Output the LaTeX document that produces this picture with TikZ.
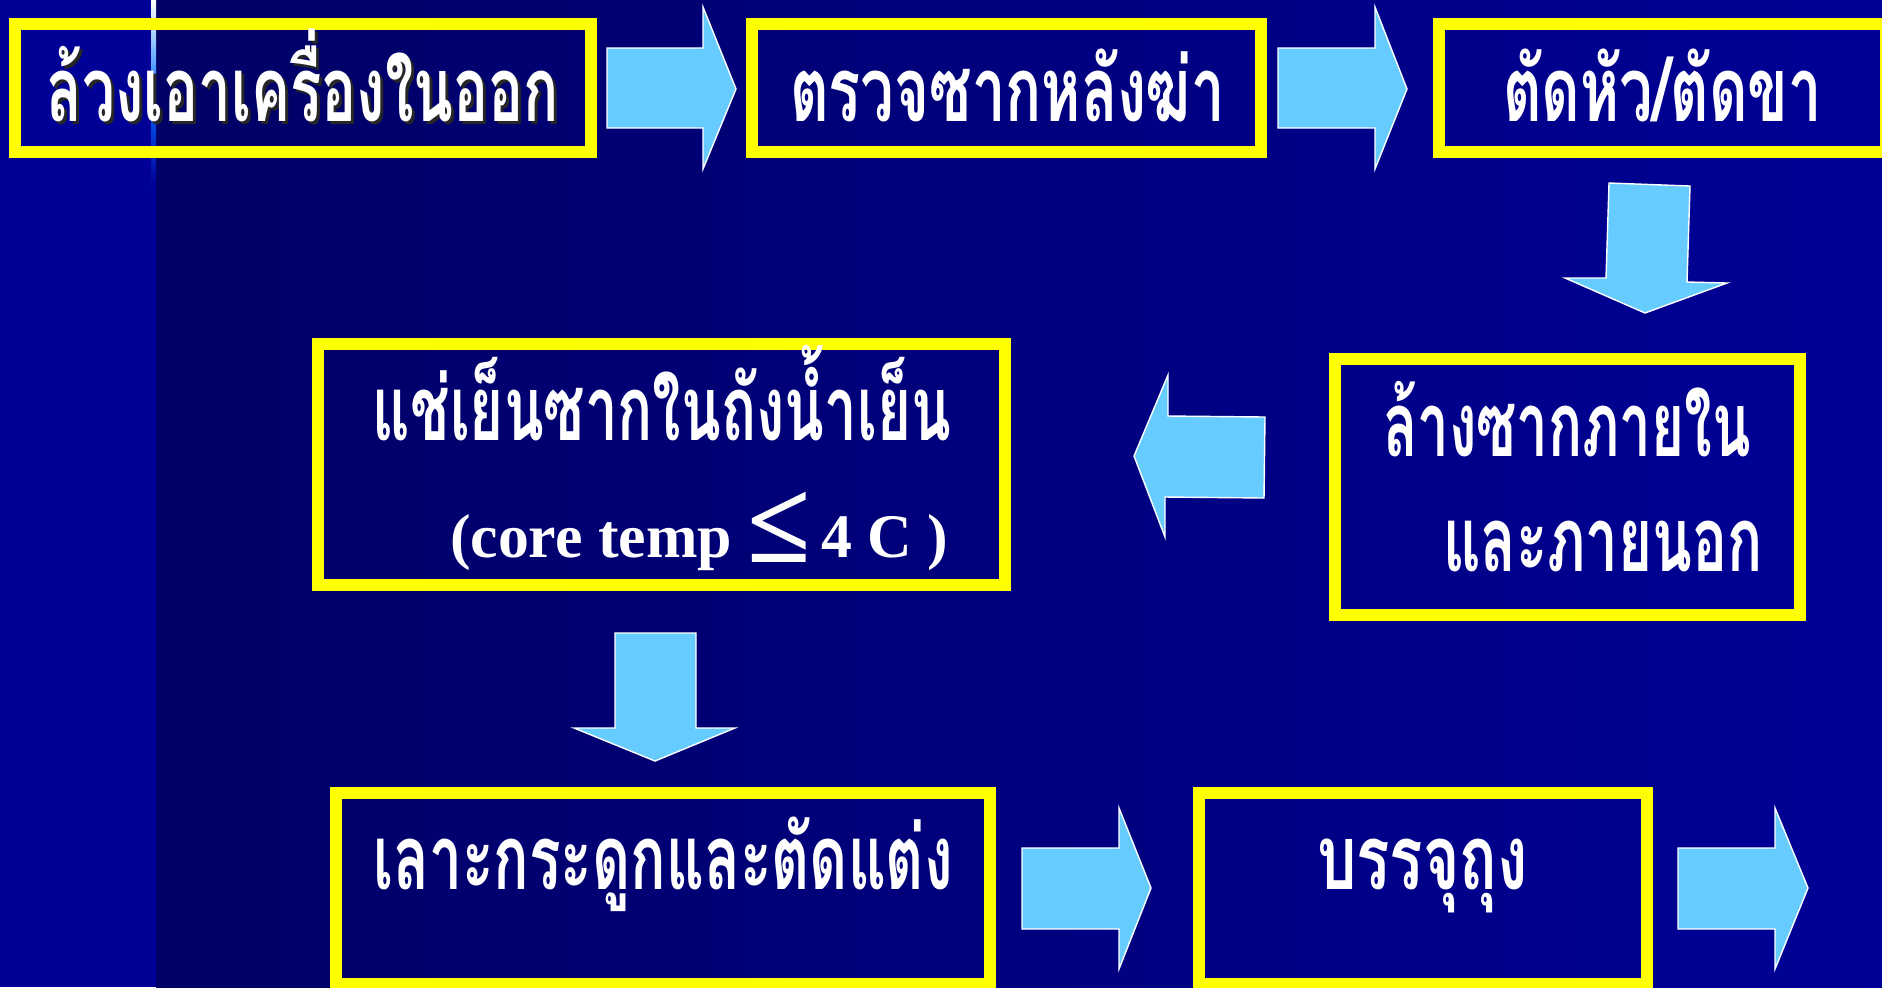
\documentclass[tikz,border=0pt]{standalone}
\usepackage{fontspec}
\usepackage{graphicx}
\setmainfont{Liberation Serif}
\newfontfamily\thai[Script=Thai]{Loma}
\definecolor{bgstrip}{RGB}{0,0,150}
\definecolor{bgdark}{RGB}{0,0,102}
\definecolor{bglight}{RGB}{0,0,150}
\definecolor{ybord}{RGB}{255,255,0}
\definecolor{arrfill}{RGB}{102,204,255}
\definecolor{linelb}{RGB}{150,200,255}
\definecolor{lineb}{RGB}{0,102,255}
\newcommand\thw[2]{\resizebox{#1pt}{\height}{\thai\bfseries\fontsize{45}{52}\selectfont #2}}
\tikzset{
  ybox/.style={draw=ybord, line width=6pt, inner sep=0pt, outer sep=0pt},
  blockarrow/.style={fill=arrfill, draw=white, line width=0.7pt, line join=miter},
  wtext/.style={text=white, anchor=base, inner sep=0pt, outer sep=0pt},
  stext/.style={text=black!85, anchor=base, inner sep=0pt, outer sep=0pt}
}
\begin{document}
\begin{tikzpicture}[x=0.5pt,y=-0.5pt]
\useasboundingbox (0,0) rectangle (1882,987);
% background
\fill[bgstrip] (0,0) rectangle (156,987);
\shade[left color=bgdark, right color=bglight] (156,0) rectangle (1882,987);
% vertical accent line
\shade[top color=white, bottom color=linelb] (151,0) rectangle (156,40);
\shade[top color=linelb, bottom color=lineb] (151,40) rectangle (156,100);
\shade[top color=lineb, bottom color=bgstrip] (151,100) rectangle (156,185);

% boxes
\node[ybox, minimum width=288pt, minimum height=64pt] (b1) at (303,88) {};
\node[ybox, minimum width=254.5pt, minimum height=64pt] (b2) at (1006.5,88) {};
\node[ybox, minimum width=223.5pt, minimum height=64pt] (b3) at (1662.5,88) {};
\node[ybox, minimum width=343.5pt, minimum height=120.5pt] (b4) at (661.5,464.5) {};
\node[ybox, minimum width=232.5pt, minimum height=128pt] (b5) at (1567.5,487) {};
\node[ybox, minimum width=327pt, minimum height=95.5pt] (b6) at (663,888.5) {};
\node[ybox, minimum width=224pt, minimum height=95.5pt] (b7) at (1423,888.5) {};

% texts
\node[stext] (t1s) at (306,124) {\thw{256}{ล้วงเอาเครื่องในออก}};
\node[wtext] (t1) at (303,121) {\thw{256}{ล้วงเอาเครื่องในออก}};
\node[wtext] (t2) at (1007.5,121) {\thw{217.5}{ตรวจซากหลังฆ่า}};
\node[wtext] (t3) at (1662.5,121) {\thw{159.5}{ตัดหัว/ตัดขา}};
\node[wtext] (t4a) at (662,440) {\thw{289}{แช่เย็นซากในถังน้ำเย็น}};
\node[wtext] (t4b) at (699,557) {\resizebox{249pt}{\height}{\bfseries\fontsize{31}{36}\selectfont (core temp \raisebox{-2.5pt}{\fontsize{58}{60}\selectfont ≤}\,4 C )}};
\node[wtext] (t5a) at (1567,456) {\thw{184}{ล้างซากภายใน}};
\node[wtext] (t5b) at (1603,571) {\thw{160}{และภายนอก}};
\node[wtext] (t6) at (663,889) {\thw{290}{เลาะกระดูกและตัดแต่ง}};
\node[wtext] (t7) at (1422.5,889) {\thw{105.5}{บรรจุถุง}};

% block arrows
\draw[blockarrow] (607,48) -- (703,48) -- (703,7) -- (736,89) -- (703,169) -- (703,128) -- (607,128) -- cycle;
\draw[blockarrow] (1278,48) -- (1375,48) -- (1375,7) -- (1407,89) -- (1375,169) -- (1375,128) -- (1278,128) -- cycle;
\draw[blockarrow] (1609,183) -- (1690,186) -- (1687,282) -- (1727,283) -- (1645,313) -- (1565,278) -- (1606,278) -- cycle;
\draw[blockarrow] (1265,417) -- (1168,416) -- (1168,375) -- (1134,456) -- (1165,537) -- (1165,497) -- (1264,498) -- cycle;
\draw[blockarrow] (615,633) -- (696,633) -- (696,728) -- (735,728) -- (655,761) -- (574,728) -- (615,728) -- cycle;
\draw[blockarrow] (1022,848) -- (1119,848) -- (1119,808) -- (1151,888) -- (1119,969) -- (1119,929) -- (1022,929) -- cycle;
\draw[blockarrow] (1678,848) -- (1775,848) -- (1775,808) -- (1808,888) -- (1775,969) -- (1775,929) -- (1678,929) -- cycle;
\end{tikzpicture}
\end{document}
